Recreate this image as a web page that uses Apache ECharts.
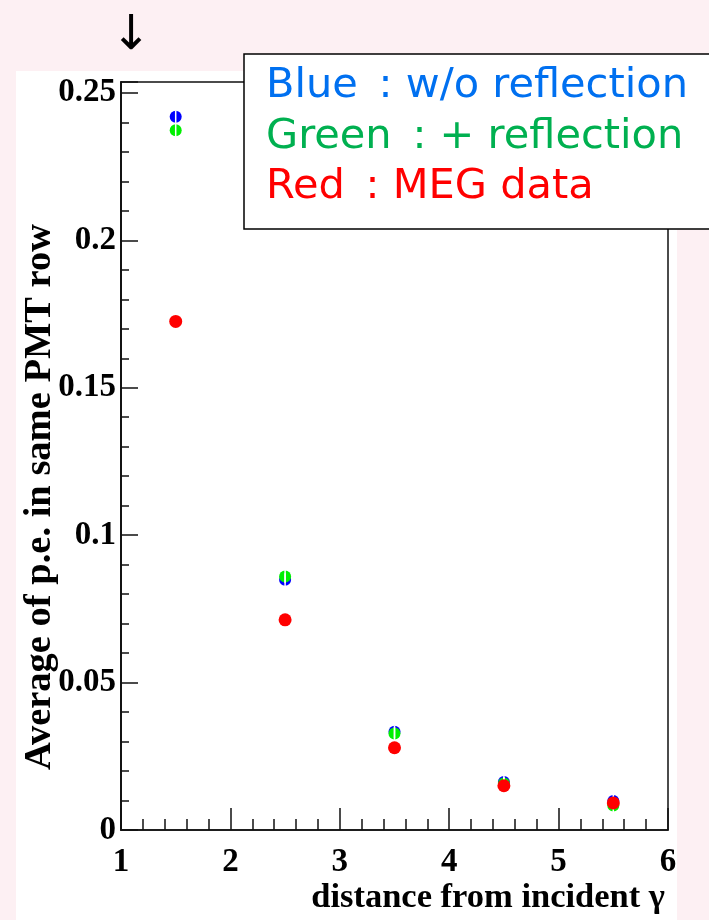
<!DOCTYPE html>
<html>
<head>
<meta charset="utf-8">
<script src="https://cdn.jsdelivr.net/npm/echarts@6/dist/echarts.min.js"></script>
<style>
html,body{margin:0;padding:0;background:#fdf0f3;}
#chart{width:709px;height:920px;}
</style>
</head>
<body>
<div id="chart"></div>
<script>
// ---- data ----
const distances = [1.5, 2.5, 3.5, 4.5, 5.5];
const blueNoReflection = [0.2419, 0.0849, 0.0333, 0.0163, 0.0098];
const greenReflection  = [0.2373, 0.0860, 0.0327, 0.0158, 0.0083];
const redMEGData       = [0.1725, 0.0713, 0.0279, 0.0150, 0.0092];
const xTicks = [1, 2, 3, 4, 5, 6];
const yTicks = [0, 0.05, 0.1, 0.15, 0.2, 0.25];
const legendLines = ['Blue\u2002: w/o reflection', 'Green\u2002: + reflection', 'Red\u2002: MEG data'];
const xTitle = 'distance from incident \u03b3';
const yTitle = 'Average of p.e. in same PMT row';

const pts = (ys) => distances.map((x, i) => [x, ys[i]]);
const serif = '"Liberation Serif", "Times New Roman", serif';
const axisCol = '#111';

const chart = echarts.init(document.getElementById('chart'), null, {renderer: 'canvas'});
chart.setOption({
  backgroundColor: 'transparent',
  animation: false,
  grid: {left: 121, right: 41, top: 82, bottom: 90, show: true, borderColor: axisCol, borderWidth: 1.5, backgroundColor: '#fff'},
  xAxis: [{
    type: 'value', min: xTicks[0], max: xTicks[xTicks.length - 1], interval: 1,
    axisLine: {show: true, onZero: false, lineStyle: {color: axisCol, width: 1.5}},
    axisTick: {show: true, inside: true, length: 22, lineStyle: {color: axisCol, width: 1.5}},
    minorTick: {show: true, splitNumber: 5, length: 11, lineStyle: {color: axisCol, width: 1.5}},
    splitLine: {show: false},
    axisLabel: {margin: 16, fontFamily: serif, fontWeight: 'bold', fontSize: 33, color: '#000',
      formatter: v => xTicks.includes(v) ? String(v) : ''}
  }],
  yAxis: [{
    type: 'value', min: 0, max: 0.2537, interval: 0.05, position: 'left',
    axisLine: {show: true, onZero: false, lineStyle: {color: axisCol, width: 1.5}},
    axisTick: {show: true, inside: true, length: 17, lineStyle: {color: axisCol, width: 1.5}},
    splitLine: {show: false},
    axisLabel: {margin: 5, fontFamily: serif, fontWeight: 'bold', fontSize: 33, color: '#000',
      formatter: v => { const m = yTicks.find(t => Math.abs(t - v) < 1e-9); return m === undefined ? '' : String(m); }}
  }, {
    type: 'value', min: 0, max: 0.2537, interval: 0.01, position: 'left',
    axisLine: {show: true, onZero: false, lineStyle: {color: axisCol, width: 1.5}},
    axisTick: {show: true, inside: true, length: 8, lineStyle: {color: axisCol, width: 1.5}},
    splitLine: {show: false},
    axisLabel: {show: false}
  }],
  series: [
    {type: 'scatter', name: 'blue', data: pts(blueNoReflection), symbol: 'circle', symbolSize: 12,
      itemStyle: {color: '#0000ff', opacity: 1}, z: 2},
    {type: 'scatter', name: 'green', data: pts(greenReflection), symbol: 'circle', symbolSize: 12,
      itemStyle: {color: '#00f000', opacity: 1}, z: 3},
    {type: 'scatter', name: 'blueGap', data: pts(blueNoReflection), symbol: 'rect', symbolSize: [1.5, 13],
      itemStyle: {color: '#fff', opacity: 1}, z: 4, silent: true},
    {type: 'scatter', name: 'greenGap', data: pts(greenReflection), symbol: 'rect', symbolSize: [1.5, 13],
      itemStyle: {color: '#fff', opacity: 1}, z: 4, silent: true},
    {type: 'scatter', name: 'red', data: pts(redMEGData), symbol: 'circle', symbolSize: 13,
      itemStyle: {color: '#ff0000', opacity: 1}, z: 5}
  ],
  graphic: [
    {type: 'rect', z: -100, shape: {x: 16, y: 71, width: 661, height: 849}, style: {fill: '#ffffff'}},
    {type: 'text', z: 10, x: 131, y: 37, style: {text: '\u2193', font: '48px "DejaVu Sans"', fill: '#000', align: 'center', verticalAlign: 'middle'}},
    {type: 'text', z: 10, x: 40, y: 497, rotation: Math.PI / 2,
      style: {text: yTitle, font: 'bold 38.5px ' + serif, fill: '#000', align: 'center', verticalAlign: 'middle'}},
    {type: 'text', z: 10, x: 665, y: 898,
      style: {text: xTitle, font: 'bold 34.5px ' + serif, fill: '#000', align: 'right', verticalAlign: 'middle'}},
    {type: 'rect', z: 50, shape: {x: 244, y: 54, width: 480, height: 175}, style: {fill: '#fff', stroke: '#000', lineWidth: 1.5}},
    {type: 'text', z: 51, x: 266, y: 86, style: {text: legendLines[0], font: '41.5px "DejaVu Sans"', fill: '#0070f0', verticalAlign: 'middle'}},
    {type: 'text', z: 51, x: 266, y: 137, style: {text: legendLines[1], font: '41.5px "DejaVu Sans"', fill: '#00b050', verticalAlign: 'middle'}},
    {type: 'text', z: 51, x: 266, y: 187, style: {text: legendLines[2], font: '41.5px "DejaVu Sans"', fill: '#ff0000', verticalAlign: 'middle'}}
  ]
});
</script>
</body>
</html>
